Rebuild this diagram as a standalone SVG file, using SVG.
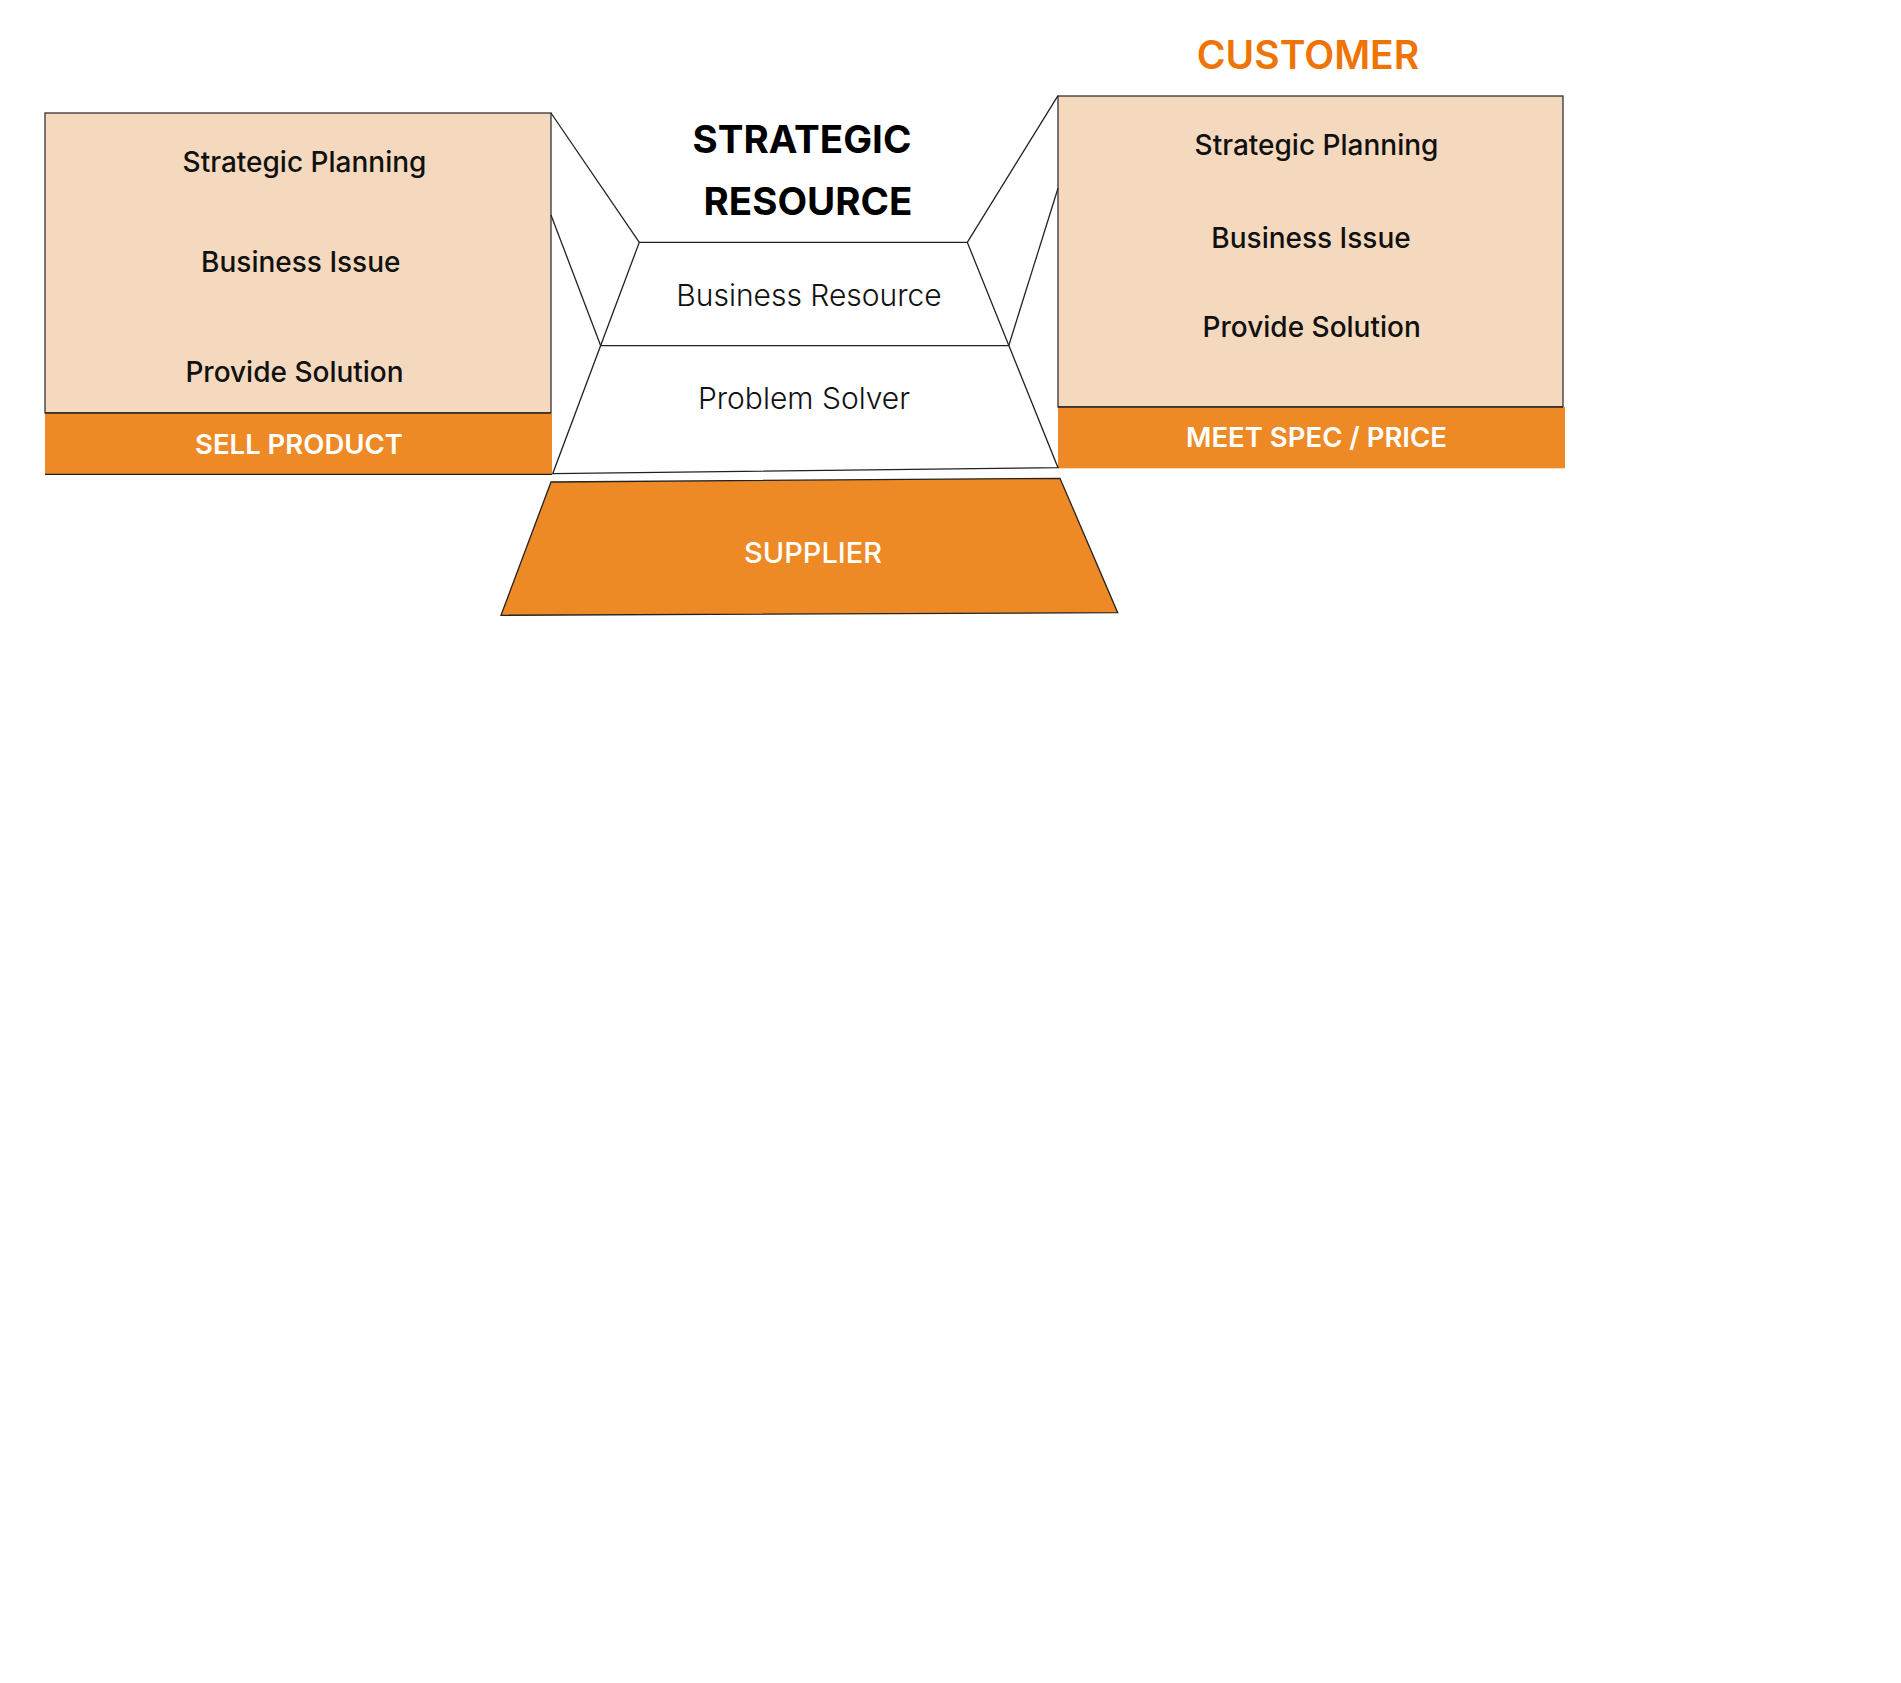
<svg xmlns="http://www.w3.org/2000/svg" width="1901" height="1683" viewBox="0 0 1901 1683">
<style>
.t{font-family:Inter,"Liberation Sans",sans-serif;text-anchor:middle}
.item{font-size:28px;font-weight:500;fill:#111}
.band{font-size:27.5px;font-weight:600;fill:#fff}
.mid{font-size:30px;font-weight:300;fill:#111}
.head{font-size:38.5px;font-weight:700;fill:#000}
.ln{stroke:#222;stroke-width:1.3;fill:none}
.beige{fill:#F4D9BE;stroke:#333;stroke-width:1.3}
.orange{fill:#EE8A25}
</style>
<rect width="1901" height="1683" fill="#fff"/>
<g id="supplier">
<polygon points="551,482 1060,478.3 1117.7,612.7 501,615.3" fill="#EE8A25" stroke="#222" stroke-width="1.3"/>
<text class="t" x="813" y="563" font-size="29" font-weight="500" fill="#fff">SUPPLIER</text>
</g>
<g id="left-box">
<rect class="beige" x="45" y="113" width="506" height="300"/>
<rect class="orange" x="45" y="413" width="507" height="61.3"/>
<line class="ln" x1="45" y1="474.3" x2="552" y2="474.3"/>
<line class="ln" x1="45" y1="413" x2="551" y2="413"/>
<text class="t item" x="304.5" y="171.7">Strategic Planning</text>
<text class="t item" x="300.8" y="272.3">Business Issue</text>
<text class="t item" x="294.5" y="381.7">Provide Solution</text>
<text class="t band" x="299" y="454">SELL PRODUCT</text>
</g>
<g id="customer-box">
<text class="t" x="1308" y="69" font-size="39" font-weight="600" fill="#EE7406">CUSTOMER</text>
<rect class="beige" x="1058" y="96" width="505" height="311"/>
<rect class="orange" x="1058" y="407" width="507" height="61.3"/>
<line class="ln" x1="1058" y1="407" x2="1563" y2="407"/>
<text class="t item" x="1316.5" y="155">Strategic Planning</text>
<text class="t item" x="1311" y="248.3">Business Issue</text>
<text class="t item" x="1311.7" y="336.7">Provide Solution</text>
<text class="t band" x="1316.5" y="447">MEET SPEC / PRICE</text>
</g>
<g id="strategic-resource">
<polygon points="639.3,242.3 967.3,242.3 1058,467.7 552.7,473.7" fill="#fff" stroke="#222" stroke-width="1.3"/>
<line class="ln" x1="600.7" y1="345.7" x2="1008.7" y2="345.7"/>
<text class="t head" x="802" y="153">STRATEGIC</text>
<text class="t head" x="808" y="215">RESOURCE</text>
<text class="t mid" x="809" y="305.5">Business Resource</text>
<text class="t mid" x="804" y="408.5">Problem Solver</text>
</g>
<g id="connectors">
<line class="ln" x1="551" y1="113" x2="639.3" y2="242.3"/>
<line class="ln" x1="551" y1="215" x2="600.7" y2="345.7"/>
<line class="ln" x1="1058" y1="95.7" x2="967.3" y2="242.3"/>
<line class="ln" x1="1058" y1="188.3" x2="1008.7" y2="345.7"/>
</g>
</svg>
